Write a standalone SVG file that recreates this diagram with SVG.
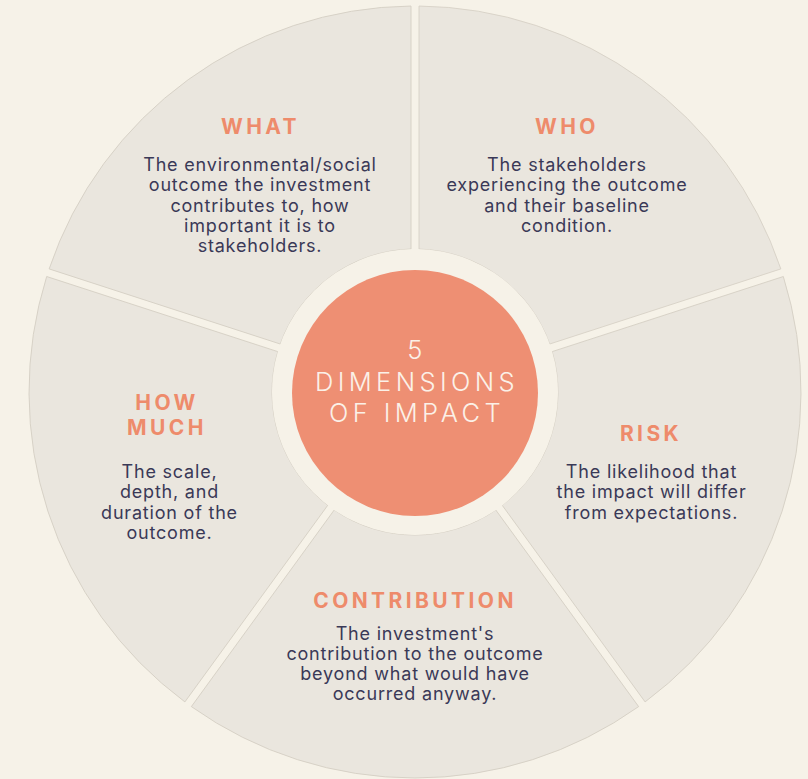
<svg xmlns="http://www.w3.org/2000/svg" xmlns:xlink="http://www.w3.org/1999/xlink" width="808" height="779" viewBox="0 0 808 779">
<style>
.bg{fill:#f6f2e8}
.seg{fill:#eae6de;stroke:#d4cec3;stroke-width:0.8}
.title{font-family:Inter,"Liberation Sans",sans-serif;font-weight:700;font-size:21px;letter-spacing:3.4px;fill:#ee8b6b;text-anchor:middle}
.body{font-family:Inter,"Liberation Sans",sans-serif;font-weight:400;font-size:18px;letter-spacing:0.8px;fill:#3a3957;text-anchor:middle}
.center{font-family:Inter,"Liberation Sans",sans-serif;font-weight:300;font-size:25.5px;letter-spacing:4.4px;fill:#fbf1e8;text-anchor:middle}
</style>
<defs>
<path id="seg" d="M 419.0 6.02 A 386 386 0 0 1 780.85 268.93 L 549.71 344.03 A 143 143 0 0 0 419.0 249.06 Z"/>
</defs>
<rect class="bg" x="0" y="0" width="808" height="779"/>

<g id="who">
<use xlink:href="#seg" class="seg"/>
<text class="title" x="567" y="134">WHO</text>
<text class="body" x="567" y="171">The stakeholders</text>
<text class="body" x="567" y="191.3">experiencing the outcome</text>
<text class="body" x="567" y="211.6">and their baseline</text>
<text class="body" x="567" y="231.9">condition.</text>
</g>

<g id="risk">
<use xlink:href="#seg" class="seg" transform="rotate(72 415 392)"/>
<text class="title" x="651" y="441">RISK</text>
<text class="body" x="651.5" y="478">The likelihood that</text>
<text class="body" x="651.5" y="498.3">the impact will differ</text>
<text class="body" x="651.5" y="518.6">from expectations.</text>
</g>

<g id="contribution">
<use xlink:href="#seg" class="seg" transform="rotate(144 415 392)"/>
<text class="title" x="415" y="607.5">CONTRIBUTION</text>
<text class="body" x="415" y="639.5">The investment's</text>
<text class="body" x="415" y="659.8">contribution to the outcome</text>
<text class="body" x="415" y="680.1">beyond what would have</text>
<text class="body" x="415" y="700.4">occurred anyway.</text>
</g>

<g id="how-much">
<use xlink:href="#seg" class="seg" transform="rotate(216 415 392)"/>
<text class="title" x="167" y="409.5">HOW</text>
<text class="title" x="167" y="435">MUCH</text>
<text class="body" x="169.5" y="478">The scale,</text>
<text class="body" x="169.5" y="498.3">depth, and</text>
<text class="body" x="169.5" y="518.6">duration of the</text>
<text class="body" x="169.5" y="538.9">outcome.</text>
</g>

<g id="what">
<use xlink:href="#seg" class="seg" transform="rotate(288 415 392)"/>
<text class="title" x="260.5" y="134">WHAT</text>
<text class="body" x="260" y="171">The environmental/social</text>
<text class="body" x="260" y="191.3">outcome the investment</text>
<text class="body" x="260" y="211.6">contributes to, how</text>
<text class="body" x="260" y="231.9">important it is to</text>
<text class="body" x="260" y="252.2">stakeholders.</text>
</g>

<g id="center">
<circle cx="415" cy="392" r="143" fill="#f6f2e8"/>
<circle cx="415" cy="393" r="123" fill="#ee8f73"/>
<text class="center" x="417" y="358.5">5</text>
<text class="center" x="417" y="390.5">DIMENSIONS</text>
<text class="center" x="417" y="421.5">OF IMPACT</text>
</g>
</svg>
